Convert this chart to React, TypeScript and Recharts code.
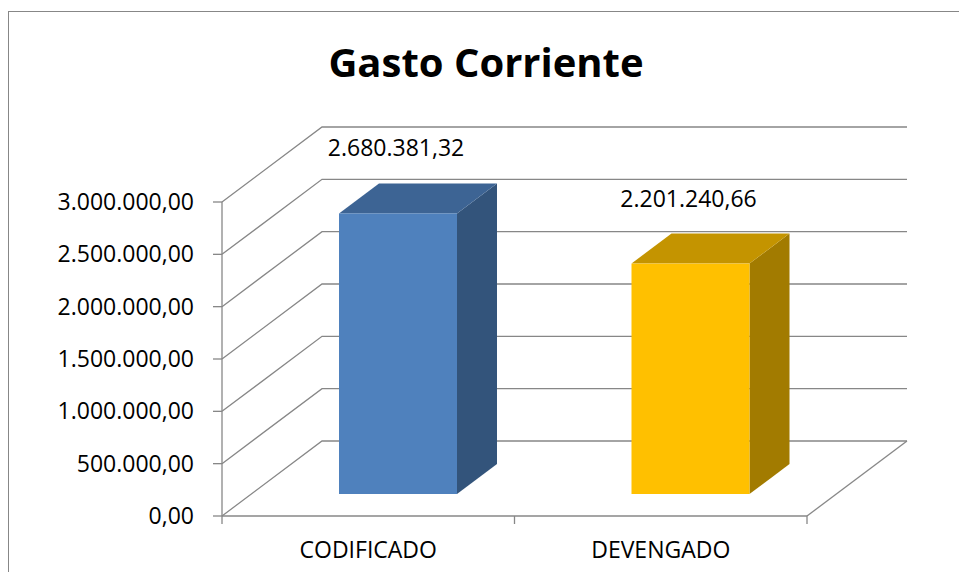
import { BarChart, Bar, XAxis, YAxis, CartesianGrid, LabelList } from 'recharts'

const CATEGORIAS = ['CODIFICADO', 'DEVENGADO']
const VALORES = [2680381.32, 2201240.66]
const Y_TICKS = [0, 500000, 1000000, 1500000, 2000000, 2500000, 3000000]
const TITULO = 'Gasto Corriente'

const COLORES = [
  { front: '#4F81BD', top: '#3D6494', side: '#33547B' },
  { front: '#FFC000', top: '#C49400', side: '#A27B00' },
]

const FONT = "'Open Sans', sans-serif"
const GRID = '#878787'
// chart box + 3d depth (back wall / bar) offsets
const W = 950, H = 560
const PLOT_BOTTOM = 504
const WALL_DX = 100, WALL_DY = -75
const BAR_SHIFT_X = 30, BAR_SHIFT_Y = -22
const BAR_DX = 40, BAR_DY = -30

const data = CATEGORIAS.map((c, i) => ({ categoria: c, valor: VALORES[i] }))

// 2.680.381,32 style
function fmt(v: number) {
  const [ent, dec] = Math.abs(v).toFixed(2).split('.')
  return ent.replace(/\B(?=(\d{3})+(?!\d))/g, '.') + ',' + dec
}

function Bar3D(p: any) {
  const { x, y, width, height, index } = p
  const c = COLORES[index % COLORES.length]
  const fx = x + BAR_SHIFT_X, fy = y + BAR_SHIFT_Y
  const top = `${fx},${fy} ${fx + BAR_DX},${fy + BAR_DY} ${fx + width + BAR_DX},${fy + BAR_DY} ${fx + width},${fy}`
  const side = `${fx + width},${fy} ${fx + width + BAR_DX},${fy + BAR_DY} ${fx + width + BAR_DX},${fy + height + BAR_DY} ${fx + width},${fy + height}`
  return (
    <g>
      <polygon points={side} fill={c.side} />
      <polygon points={top} fill={c.top} />
      <rect x={fx} y={fy} width={width} height={height} fill={c.front} />
    </g>
  )
}

function gridLine(p: any) {
  const { x1, x2, y1, index } = p
  const isFloor = Math.abs(y1 - PLOT_BOTTOM) < 1
  return (
    <g key={`grid-${index}`}>
      <polyline
        points={`${x1},${y1} ${x1 + WALL_DX},${y1 + WALL_DY} ${x2 + WALL_DX},${y1 + WALL_DY}`}
        fill="none" stroke={GRID} strokeWidth={1.3}
      />
      {isFloor && <line x1={x2} y1={y1} x2={x2 + WALL_DX} y2={y1 + WALL_DY} stroke={GRID} strokeWidth={1.3} />}
    </g>
  )
}

function XTick(p: any) {
  const { x, y, payload, index } = p
  const half = payload?.offset ?? 146
  const last = index === CATEGORIAS.length - 1
  return (
    <g>
      <line x1={x - half} y1={y} x2={x - half} y2={y + 8} stroke={GRID} strokeWidth={1.3} />
      {last && <line x1={x + half} y1={y} x2={x + half} y2={y + 8} stroke={GRID} strokeWidth={1.3} />}
      <text x={x} y={y + 26} dy="0.71em" textAnchor="middle" fontFamily={FONT} fontSize={23} fill="#000">
        {payload.value}
      </text>
    </g>
  )
}

function ValueLabel(p: any) {
  const { x, y, width, value } = p
  return (
    <text x={x + width / 2 + BAR_SHIFT_X - 2} y={y + BAR_SHIFT_Y + BAR_DY - 27} textAnchor="middle"
      fontFamily={FONT} fontSize={23} fill="#000">
      {fmt(value)}
    </text>
  )
}

export default function App() {
  return (
    <div style={{ position: 'fixed', left: 8, top: 11, width: W, height: H, overflow: 'hidden', borderTop: `1px solid ${GRID}`, borderLeft: `1px solid ${GRID}`, background: '#fff' }}>
      <div style={{ position: 'absolute', left: 0, top: 29.5, width: W, boxSizing: 'border-box', paddingLeft: 4, textAlign: 'center', fontFamily: FONT, fontWeight: 700, fontSize: 40, lineHeight: '40px', color: '#000' }}>
        {TITULO}
      </div>
      <BarChart width={W} height={H} data={data} margin={{ top: 190, right: 152, bottom: 16, left: 0 }}>
        <CartesianGrid vertical={false} horizontal={gridLine} />
        <YAxis
          domain={[0, 3000000]} ticks={Y_TICKS} width={213} tickFormatter={fmt}
          axisLine={{ stroke: GRID, strokeWidth: 1.3 }} tickLine={{ stroke: GRID, strokeWidth: 1.3 }}
          tickSize={9} tickMargin={19}
          tick={{ fill: '#000', fontSize: 23, fontFamily: FONT }}
        />
        <XAxis
          dataKey="categoria" height={40} axisLine={{ stroke: GRID, strokeWidth: 1.3 }}
          tickLine={false} tickSize={0} tickMargin={0} tick={<XTick />} interval={0}
        />
        <Bar dataKey="valor" barSize={118} isAnimationActive={false} shape={Bar3D}>
          <LabelList dataKey="valor" content={ValueLabel} />
        </Bar>
      </BarChart>
    </div>
  )
}
